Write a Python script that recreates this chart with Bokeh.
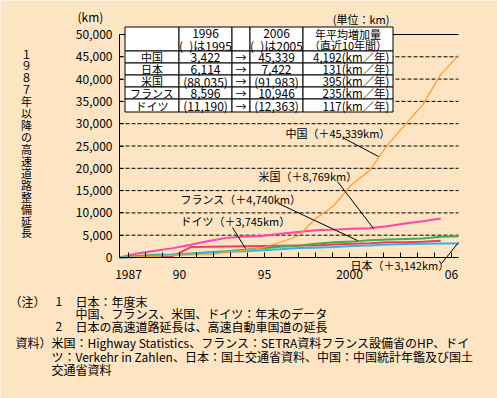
from bokeh.plotting import figure
from bokeh.models import (ColumnDataSource, Range1d, LinearAxis, FixedTicker,
                          NumeralTickFormatter)
from bokeh.core.properties import value
from bokeh.embed import file_html
from bokeh.resources import INLINE

# ---------------- data ----------------
years = list(range(1987, 2007))
years_to_2005 = list(range(1987, 2006))

china = [0, 147, 271, 522, 574, 652, 1145, 1603, 2141, 3422, 4771, 8733,
         11605, 16314, 19437, 25130, 29745, 34288, 41005, 45339]
japan = [0, 126, 381, 589, 794, 1124, 1288, 1397, 1652, 1834, 2122, 2175,
         2337, 2571, 2679, 2916, 3016, 3063, 3112, 3142]
france = [0, 364, 618, 618, 874, 1202, 1408, 1750, 2069, 2390, 2658, 3097,
          3420, 3560, 3862, 4017, 4173, 4284, 4637, 4740]
usa = [0, 900, 1500, 2100, 2850, 3700, 4400, 4700, 4821, 5300, 5700, 6100,
       6250, 6450, 6550, 7000, 7600, 8150, 8769]
germany = [0, 103, 204, 341, 2337, 2395, 2462, 2525, 2572, 2628, 2691, 2691,
           2897, 3094, 3168, 3419, 3426, 3556, 3745]

tbl_country = ["中国", "日本", "米国", "フランス", "ドイツ"]
tbl_1996 = [3422, 6114, 88035, 8596, 11190]
tbl_2006 = [45339, 7422, 91983, 10946, 12363]
tbl_rate = [4192, 131, 395, 235, 117]
tbl_paren = [False, False, True, False, True]

y_ticks = list(range(0, 50001, 5000))
x_tick_labels = {1987: "1987", 1990: "90", 1995: "95", 2000: "2000", 2006: "06"}

y_title = "１９８７年以降の高速道路整備延長"

# ---------------- layout helpers (page pixel -> data) ----------------
K = 339 / 19          # px per year for data
M = 50000 / 223       # km per px


def dx(px):
    return 1987 + (px - 119) / K


def dy(py):
    return (257 - py) * M


W, H = 497, 398
BG = "#FDE5C3"
FONT = "Noto Sans CJK JP"

p = figure(width=W, height=H, output_backend="svg", toolbar_location=None,
           x_range=Range1d(dx(0), dx(W)), y_range=Range1d(dy(H), dy(0)),
           x_axis_location=None, y_axis_location=None, min_border=0)
p.grid.visible = False
p.outline_line_color = None
p.background_fill_color = BG
p.border_fill_color = BG

# tick range (ticks spaced 17px per year, 1987 tick at x=128)
p.extra_x_ranges = {"ticks": Range1d(1987 - 128 / 17, 2006 + (W - 451) / 17)}

xaxis = LinearAxis(x_range_name="ticks", fixed_location=0,
                   bounds=(1987 - 9 / 17, 2006 + 7 / 17),
                   ticker=FixedTicker(ticks=years, minor_ticks=[]),
                   major_label_overrides={y: x_tick_labels.get(y, "") for y in years})
xaxis.major_tick_in = 5
xaxis.major_tick_out = 0
xaxis.minor_tick_in = 0
xaxis.minor_tick_out = 0
xaxis.major_label_standoff = 12
xaxis.major_label_text_font = FONT
xaxis.major_label_text_font_size = "12px"
xaxis.major_label_text_color = "black"
xaxis.axis_line_color = "black"
xaxis.major_tick_line_color = "black"
p.add_layout(xaxis, "below")

yaxis = LinearAxis(fixed_location=1987, bounds=(0, 50000),
                   ticker=FixedTicker(ticks=y_ticks, minor_ticks=[]),
                   formatter=NumeralTickFormatter(format="0,0"))
yaxis.major_tick_in = 4
yaxis.major_tick_out = 0
yaxis.minor_tick_in = 0
yaxis.minor_tick_out = 0
yaxis.major_label_standoff = 7
yaxis.major_label_text_font = FONT
yaxis.major_label_text_font_size = "12px"
yaxis.major_label_text_color = "black"
yaxis.axis_line_color = "black"
yaxis.major_tick_line_color = "black"
p.add_layout(yaxis, "left")

# grid lines
grid_vals = y_ticks[1:-1]
p.segment(x0=[years[0]] * len(grid_vals), x1=[years[-1]] * len(grid_vals),
          y0=grid_vals, y1=grid_vals, line_color="black", line_width=1,
          line_dash="4 2")
p.segment(x0=[years[0]], x1=[years[-1]], y0=[y_ticks[-1]], y1=[y_ticks[-1]],
          line_color="black", line_width=1)

# series
p.line(years_to_2005, usa, line_color="#FF44AA", line_width=2)
p.line(years_to_2005, germany, line_color="#F23C5E", line_width=2)
p.line(years, france, line_color="#3CAF55", line_width=2)
p.line(years, japan, line_color="#33B5E5", line_width=2)
p.line(years, china, line_color="#FF9A2E", line_width=1.2)

# series labels and leader lines
lab_px = [(285, 132), (258, 175), (180, 198), (180, 220), (350, 264)]
lab_names = ["中国", "米国", "フランス", "ドイツ", "日本"]
lab_series = [china, usa, france, germany, japan]
lead_px = [((342, 137), (378, 156)), ((337, 181), (373, 228)),
           ((278, 203), (357, 240)), ((232, 227), (245, 248)),
           ((441, 263), (458, 242))]
p.segment(x0=[dx(a[0]) for a, b in lead_px], y0=[dy(a[1]) for a, b in lead_px],
          x1=[dx(b[0]) for a, b in lead_px], y1=[dy(b[1]) for a, b in lead_px],
          line_color="black", line_width=1)
p.text(x=[dx(a) for a, b in lab_px], y=[dy(b) for a, b in lab_px],
       text=[f"{n}（＋{s[-1]:,}km）" for n, s in zip(lab_names, lab_series)],
       text_font=value(FONT), text_font_size="11px", text_color="black",
       text_align="left", text_baseline="middle")

# table
xe = [124.5, 178.5, 231.5, 249.5, 302.5, 392.5]
ye = [26.5, 50.5, 62.5, 74.5, 86.5, 98.5, 111.5]
ql, qr, qt, qb = [], [], [], []
for i in range(len(xe) - 1):
    for j in range(len(ye) - 1):
        ql.append(dx(xe[i])); qr.append(dx(xe[i + 1]))
        qt.append(dy(ye[j])); qb.append(dy(ye[j + 1]))
p.quad(left=ql, right=qr, top=qt, bottom=qb, fill_color="white",
       line_color="black", line_width=1)


def fmt(v, paren):
    s = f"{v:,}"
    return f"({s})" if paren else s


row_y = [(ye[j] + ye[j + 1]) / 2 for j in range(1, 6)]
cx = [(xe[i] + xe[i + 1]) / 2 for i in range(5)]

# table texts: CJK labels (11px)
cj_x, cj_y, cj_t = [], [], []
for t, x_, y_ in [("年平均増加量", cx[4], 33), ("（直近10年間）", cx[4], 44.5)]:
    cj_x.append(dx(x_)); cj_y.append(dy(y_)); cj_t.append(t)
for k in range(5):
    for x_, t in [(cx[0], tbl_country[k]), (cx[2], "→")]:
        cj_x.append(dx(x_)); cj_y.append(dy(row_y[k])); cj_t.append(t)
p.text(x=cj_x, y=cj_y, text=cj_t, text_font=value(FONT), text_font_size="11px",
       text_color="black", text_align="center", text_baseline="middle")

# table texts: numbers (12px)
nm_x, nm_y, nm_t = [], [], []
for t, x_, y_ in [("1996", cx[1], 33), ("(\u2002)は1995", cx[1], 44.5),
                  ("2006", cx[3], 33), ("(\u2002)は2005", cx[3], 44.5)]:
    nm_x.append(dx(x_)); nm_y.append(dy(y_)); nm_t.append(t)
for k in range(5):
    for x_, t in [(cx[1], fmt(tbl_1996[k], tbl_paren[k])),
                  (cx[3], fmt(tbl_2006[k], tbl_paren[k]))]:
        nm_x.append(dx(x_)); nm_y.append(dy(row_y[k])); nm_t.append(t)
p.text(x=nm_x, y=nm_y, text=nm_t, text_font=value(FONT), text_font_size="12px",
       text_color="black", text_align="center", text_baseline="middle")

p.text(x=[dx(389)] * 5, y=[dy(v) for v in row_y],
       text=[f"{r:,}(km／年)" for r in tbl_rate], text_font=value(FONT),
       text_font_size="11.5px", text_color="black", text_align="right",
       text_baseline="middle")

# units
p.text(x=[dx(77)], y=[dy(16)], text=["(km)"], text_font=value(FONT),
       text_font_size="12px", text_align="left", text_baseline="middle")
p.text(x=[dx(389)], y=[dy(18)], text=["(単位：km)"], text_font=value(FONT),
       text_font_size="11px", text_align="right", text_baseline="middle")

# vertical y title
chars = list(y_title)
p.text(x=[dx(26)] * len(chars), y=[dy(53 + i * 11.93) for i in range(len(chars))],
       text=chars, text_font=value(FONT), text_font_size="11px",
       text_align="center", text_baseline="middle")

# notes
notes = [("（注）", 9, 301), ("1", 55, 301), ("日本：年度末", 75, 301),
         ("中国、フランス、米国、ドイツ：年末のデータ", 75, 313),
         ("2", 55, 326), ("日本の高速道路延長は、高速自動車国道の延長", 75, 326),
         ("資料）", 15, 342),
         ("米国：Highway Statistics、フランス：SETRA資料フランス設備省のHP、ドイ", 51, 342),
         ("ツ：Verkehr in Zahlen、日本：国土交通省資料、中国：中国統計年鑑及び国土", 51, 356),
         ("交通省資料", 51, 369)]
p.text(x=[dx(a) for t, a, b in notes], y=[dy(b) for t, a, b in notes],
       text=[t for t, a, b in notes], text_font=value(FONT), text_font_size="12px",
       text_align="left", text_baseline="middle")

html = file_html(p, INLINE)
html = html.replace("<body>", f'<body style="background-color:{BG};">', 1)
open("out.html", "w").write(html)
